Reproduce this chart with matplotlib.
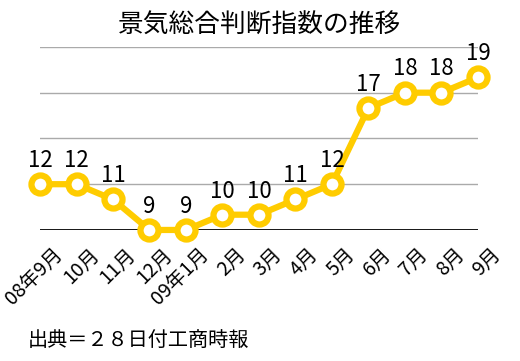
import matplotlib
matplotlib.use('Agg')
import matplotlib.pyplot as plt
import matplotlib.transforms as mtransforms
import numpy as np

plt.rcParams['font.family'] = ['Noto Sans CJK JP', 'DejaVu Sans']

months = ['08年9月', '10月', '11月', '12月', '09年1月', '2月', '3月', '4月',
          '5月', '6月', '7月', '8月', '9月']
values = [12, 12, 11, 9, 9, 10, 10, 11, 12, 17, 18, 18, 19]

fig = plt.figure(figsize=(5.2, 3.61), dpi=100)
ax = fig.add_axes([0.077, 0.363, 0.842, 0.507])

x = np.arange(len(values))
yellow = '#FFCC00'

for yv in [12, 15, 18, 21]:
    ax.axhline(yv, color='#aaaaaa', lw=1, zorder=1)
ax.axhline(9, color='black', lw=2, zorder=1)

ax.plot(x, values, color=yellow, lw=4.5, marker='o', ms=13,
        mfc='white', mec=yellow, mew=4.5, zorder=3, clip_on=False)

for xi, v in zip(x, values):
    ax.text(xi, v + 0.8, str(v), ha='center', va='bottom', fontsize=16,
            zorder=4)

ax.set_xlim(0, 12)
ax.set_ylim(9, 21)
for s in ax.spines.values():
    s.set_visible(False)
ax.set_yticks([])
ax.set_xticks(x)
ax.set_xticklabels(months, rotation=45, ha='right', va='top',
                   rotation_mode='anchor', fontsize=14)
ax.tick_params(axis='x', length=0, pad=10)
offset = mtransforms.ScaledTranslation(12 / 100, 0, fig.dpi_scale_trans)
for lbl in ax.get_xticklabels():
    lbl.set_transform(lbl.get_transform() + offset)

fig.text(0.5, 0.928, '景気総合判断指数の推移', ha='center', va='center',
         fontsize=18.5)
fig.text(0.054, 0.057, '出典＝２８日付工商時報', ha='left', va='center',
         fontsize=14.5)

fig.savefig('out.png', dpi=100)
